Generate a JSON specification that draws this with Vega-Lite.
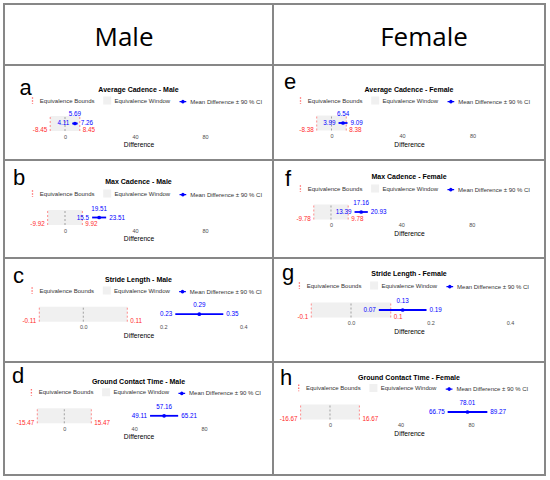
{
"$schema": "https://vega.github.io/schema/vega-lite/v6.json",
"padding": {"left": 3, "top": 3, "right": 0, "bottom": 0},
"background": "white",
"datasets": {
"equiv": [
{"panel":"a","sex":"Male","metric":"Average Cadence","lower":-8.45,"upper":8.45,"mean":5.69,"lo":4.11,"hi":7.26},
{"panel":"b","sex":"Male","metric":"Max Cadence","lower":-9.92,"upper":9.92,"mean":19.51,"lo":15.5,"hi":23.51},
{"panel":"c","sex":"Male","metric":"Stride Length","lower":-0.11,"upper":0.11,"mean":0.29,"lo":0.23,"hi":0.35},
{"panel":"d","sex":"Male","metric":"Ground Contact Time","lower":-15.47,"upper":15.47,"mean":57.16,"lo":49.11,"hi":65.21},
{"panel":"e","sex":"Female","metric":"Average Cadence","lower":-8.38,"upper":8.38,"mean":6.54,"lo":3.99,"hi":9.09},
{"panel":"f","sex":"Female","metric":"Max Cadence","lower":-9.78,"upper":9.78,"mean":17.16,"lo":13.39,"hi":20.93},
{"panel":"g","sex":"Female","metric":"Stride Length","lower":-0.1,"upper":0.1,"mean":0.13,"lo":0.07,"hi":0.19},
{"panel":"h","sex":"Female","metric":"Ground Contact Time","lower":-16.67,"upper":16.67,"mean":78.01,"lo":66.75,"hi":89.27}
],
"heads": [{"sex":"Male"},{"sex":"Female"}]
},
"config": {
"font": "Liberation Sans",
"view": {"stroke": "#878787", "strokeWidth": 2},
"title": {"fontSize": 7, "fontWeight": "bold", "color": "#000000", "anchor": "middle", "frame": "group", "font": "Liberation Sans"},
"axisX": {"domain": false, "ticks": false, "tickSize": 0, "grid": false, "labelFontSize": 5.5, "labelColor": "#4d4d4d", "labelPadding": 3, "labelFlush": false, "titleFontSize": 6.7, "titleFontWeight": "normal", "titleColor": "#000000", "titlePadding": 2},
"legend": {"labelFontSize": 6, "labelColor": "#333333", "symbolSize": 45, "labelOffset": 2.8, "columnPadding": 5.7, "padding": 0, "direction": "horizontal", "orient": "none"},
"text": {"font": "Liberation Sans"}
},
"columns": 2,
"spacing": 0,
"bounds": "flush",
"align": "each",
"resolve": {"scale": {"color": "independent"}},
"concat": [
 {"width": 269, "height": 61, "data": {"name": "heads"}, "transform": [{"filter": "datum.sex === 'Male'"}],
  "view": {"stroke": "#878787", "strokeWidth": 2},
  "mark": {"type": "text", "font": "Open Sans", "fontSize": 26, "align": "center", "baseline": "alphabetic", "dx": -14.5, "dy": 11.5, "color": "#000000"},
  "encoding": {"x": {"datum": 0, "type": "quantitative", "scale": {"domain": [-1, 1]}, "axis": null}, "y": {"datum": 0, "type": "quantitative", "scale": {"domain": [-1, 1]}, "axis": null}, "text": {"field": "sex", "type": "nominal"}}},
 {"width": 272, "height": 61, "data": {"name": "heads"}, "transform": [{"filter": "datum.sex === 'Female'"}],
  "view": {"stroke": "#878787", "strokeWidth": 2},
  "mark": {"type": "text", "font": "Open Sans", "fontSize": 26, "align": "center", "baseline": "alphabetic", "dx": 15, "dy": 11.5, "color": "#000000"},
  "encoding": {"x": {"datum": 0, "type": "quantitative", "scale": {"domain": [-1, 1]}, "axis": null}, "y": {"datum": 0, "type": "quantitative", "scale": {"domain": [-1, 1]}, "axis": null}, "text": {"field": "sex", "type": "nominal"}}},
 {"width": 269, "height": 95, "data": {"name": "equiv"}, "transform": [{"filter": "datum.panel === 'a'"}],
  "title": {"text": "Average Cadence - Male", "offset": -27.5},
  "layer": [
   {"mark": {"type": "rect"}, "encoding": {
     "x": {"field": "lower", "type": "quantitative", "title": "Difference", "scale": {"domain": [-34.86, 118.86], "nice": false, "zero": false}, "axis": {"values": [0, 40, 80], "format": "d", "offset": -29}},
     "x2": {"field": "upper"},
     "y": {"datum": -1, "type": "quantitative", "scale": {"domain": [-4.867, 7.8], "nice": false, "zero": false}, "axis": null},
     "y2": {"datum": 1},
     "color": {"datum": "Equivalence Window", "type": "nominal", "scale": {"domain": ["Equivalence Bounds", "Equivalence Window", "Mean Difference ± 90 % CI"], "range": ["#ff7070", "#f0f0f0", "#0000ff"]},
       "legend": {"title": null, "orient": "none", "legendX": 24, "legendY": 30.8, "direction": "horizontal", "encode": {"symbols": {"update": {"shape": {"signal": "datum.value === 'Equivalence Bounds' ? 'M0,-1L0,1' : datum.value === 'Equivalence Window' ? 'square' : 'M-1,0L1,0M-0.35,0A0.35,0.35,0,1,1,0.35,0A0.35,0.35,0,1,1,-0.35,0'"}, "fill": {"signal": "datum.value === 'Equivalence Bounds' ? 'transparent' : datum.value === 'Equivalence Window' ? '#ebebeb' : '#0000ff'"}, "stroke": {"signal": "datum.value === 'Equivalence Bounds' ? '#ff7070' : datum.value === 'Equivalence Window' ? 'transparent' : '#0000ff'"}, "strokeDash": {"signal": "datum.value === 'Equivalence Bounds' ? [1.5, 1.5] : [1, 0]"}, "strokeWidth": {"value": 1.3}, "size": {"value": 45}, "opacity": {"value": 1}}}}}}}},
   {"mark": {"type": "rule", "color": "#808080", "strokeDash": [2, 2], "strokeWidth": 0.7}, "encoding": {"x": {"datum": 0, "type": "quantitative"}, "y": {"datum": -1, "type": "quantitative"}, "y2": {"datum": 1}}},
   {"mark": {"type": "rule", "strokeDash": [2, 2], "strokeWidth": 0.8}, "encoding": {"x": {"field": "lower", "type": "quantitative", "title": "Difference"}, "y": {"datum": -1, "type": "quantitative"}, "y2": {"datum": 1}, "color": {"datum": "Equivalence Bounds", "type": "nominal"}}},
   {"mark": {"type": "rule", "strokeDash": [2, 2], "strokeWidth": 0.8}, "encoding": {"x": {"field": "upper", "type": "quantitative", "title": "Difference"}, "y": {"datum": -1, "type": "quantitative"}, "y2": {"datum": 1}, "color": {"datum": "Equivalence Bounds", "type": "nominal"}}},
   {"mark": {"type": "rule", "strokeWidth": 1.8}, "encoding": {"x": {"field": "lo", "type": "quantitative", "title": "Difference"}, "x2": {"field": "hi"}, "y": {"datum": 0, "type": "quantitative"}, "color": {"datum": "Mean Difference ± 90 % CI", "type": "nominal"}}},
   {"mark": {"type": "point", "filled": true, "size": 14, "opacity": 1}, "encoding": {"x": {"field": "mean", "type": "quantitative", "title": "Difference"}, "y": {"datum": 0, "type": "quantitative"}, "color": {"datum": "Mean Difference ± 90 % CI", "type": "nominal"}}},
   {"mark": {"type": "text", "align": "right", "baseline": "middle", "dx": -3, "dy": 6.8, "fontSize": 6.3, "color": "#ff2b2b"}, "encoding": {"x": {"field": "lower", "type": "quantitative", "title": "Difference"}, "y": {"datum": 0, "type": "quantitative"}, "text": {"field": "lower", "type": "nominal"}}},
   {"mark": {"type": "text", "align": "left", "baseline": "middle", "dx": 3, "dy": 6.8, "fontSize": 6.3, "color": "#ff2b2b"}, "encoding": {"x": {"field": "upper", "type": "quantitative", "title": "Difference"}, "y": {"datum": 0, "type": "quantitative"}, "text": {"field": "upper", "type": "nominal"}}},
   {"mark": {"type": "text", "align": "right", "baseline": "middle", "dx": -3, "fontSize": 6.3, "color": "#0000ff"}, "encoding": {"x": {"field": "lo", "type": "quantitative", "title": "Difference"}, "y": {"datum": 0, "type": "quantitative"}, "text": {"field": "lo", "type": "nominal"}}},
   {"mark": {"type": "text", "align": "left", "baseline": "middle", "dx": 3, "fontSize": 6.3, "color": "#0000ff"}, "encoding": {"x": {"field": "hi", "type": "quantitative", "title": "Difference"}, "y": {"datum": 0, "type": "quantitative"}, "text": {"field": "hi", "type": "nominal"}}},
   {"mark": {"type": "text", "align": "center", "baseline": "middle", "dy": -9, "fontSize": 6.3, "color": "#0000ff"}, "encoding": {"x": {"field": "mean", "type": "quantitative", "title": "Difference"}, "y": {"datum": 0, "type": "quantitative"}, "text": {"field": "mean", "type": "nominal"}}},
   {"mark": {"type": "text", "align": "left", "baseline": "alphabetic", "dx": -119, "dy": -17.5, "fontSize": 22, "color": "#000000"}, "encoding": {"text": {"field": "panel", "type": "nominal"}}}
  ]},
 {"width": 272, "height": 95, "data": {"name": "equiv"}, "transform": [{"filter": "datum.panel === 'e'"}],
  "title": {"text": "Average Cadence - Female", "offset": -27.5},
  "layer": [
   {"mark": {"type": "rect"}, "encoding": {
     "x": {"field": "lower", "type": "quantitative", "title": "Difference", "scale": {"domain": [-33.19, 121.13], "nice": false, "zero": false}, "axis": {"values": [0, 40, 80], "format": "d", "offset": -29.5}},
     "x2": {"field": "upper"},
     "y": {"datum": -1, "type": "quantitative", "scale": {"domain": [-4.933, 7.733], "nice": false, "zero": false}, "axis": null},
     "y2": {"datum": 1},
     "color": {"datum": "Equivalence Window", "type": "nominal", "scale": {"domain": ["Equivalence Bounds", "Equivalence Window", "Mean Difference ± 90 % CI"], "range": ["#ff7070", "#f0f0f0", "#0000ff"]},
       "legend": {"title": null, "orient": "none", "legendX": 23, "legendY": 30.8, "direction": "horizontal", "encode": {"symbols": {"update": {"shape": {"signal": "datum.value === 'Equivalence Bounds' ? 'M0,-1L0,1' : datum.value === 'Equivalence Window' ? 'square' : 'M-1,0L1,0M-0.35,0A0.35,0.35,0,1,1,0.35,0A0.35,0.35,0,1,1,-0.35,0'"}, "fill": {"signal": "datum.value === 'Equivalence Bounds' ? 'transparent' : datum.value === 'Equivalence Window' ? '#ebebeb' : '#0000ff'"}, "stroke": {"signal": "datum.value === 'Equivalence Bounds' ? '#ff7070' : datum.value === 'Equivalence Window' ? 'transparent' : '#0000ff'"}, "strokeDash": {"signal": "datum.value === 'Equivalence Bounds' ? [1.5, 1.5] : [1, 0]"}, "strokeWidth": {"value": 1.3}, "size": {"value": 45}, "opacity": {"value": 1}}}}}}}},
   {"mark": {"type": "rule", "color": "#808080", "strokeDash": [2, 2], "strokeWidth": 0.7}, "encoding": {"x": {"datum": 0, "type": "quantitative"}, "y": {"datum": -1, "type": "quantitative"}, "y2": {"datum": 1}}},
   {"mark": {"type": "rule", "strokeDash": [2, 2], "strokeWidth": 0.8}, "encoding": {"x": {"field": "lower", "type": "quantitative", "title": "Difference"}, "y": {"datum": -1, "type": "quantitative"}, "y2": {"datum": 1}, "color": {"datum": "Equivalence Bounds", "type": "nominal"}}},
   {"mark": {"type": "rule", "strokeDash": [2, 2], "strokeWidth": 0.8}, "encoding": {"x": {"field": "upper", "type": "quantitative", "title": "Difference"}, "y": {"datum": -1, "type": "quantitative"}, "y2": {"datum": 1}, "color": {"datum": "Equivalence Bounds", "type": "nominal"}}},
   {"mark": {"type": "rule", "strokeWidth": 1.8}, "encoding": {"x": {"field": "lo", "type": "quantitative", "title": "Difference"}, "x2": {"field": "hi"}, "y": {"datum": 0, "type": "quantitative"}, "color": {"datum": "Mean Difference ± 90 % CI", "type": "nominal"}}},
   {"mark": {"type": "point", "filled": true, "size": 14, "opacity": 1}, "encoding": {"x": {"field": "mean", "type": "quantitative", "title": "Difference"}, "y": {"datum": 0, "type": "quantitative"}, "color": {"datum": "Mean Difference ± 90 % CI", "type": "nominal"}}},
   {"mark": {"type": "text", "align": "right", "baseline": "middle", "dx": -3, "dy": 6.8, "fontSize": 6.3, "color": "#ff2b2b"}, "encoding": {"x": {"field": "lower", "type": "quantitative", "title": "Difference"}, "y": {"datum": 0, "type": "quantitative"}, "text": {"field": "lower", "type": "nominal"}}},
   {"mark": {"type": "text", "align": "left", "baseline": "middle", "dx": 3, "dy": 6.8, "fontSize": 6.3, "color": "#ff2b2b"}, "encoding": {"x": {"field": "upper", "type": "quantitative", "title": "Difference"}, "y": {"datum": 0, "type": "quantitative"}, "text": {"field": "upper", "type": "nominal"}}},
   {"mark": {"type": "text", "align": "right", "baseline": "middle", "dx": -3, "fontSize": 6.3, "color": "#0000ff"}, "encoding": {"x": {"field": "lo", "type": "quantitative", "title": "Difference"}, "y": {"datum": 0, "type": "quantitative"}, "text": {"field": "lo", "type": "nominal"}}},
   {"mark": {"type": "text", "align": "left", "baseline": "middle", "dx": 3, "fontSize": 6.3, "color": "#0000ff"}, "encoding": {"x": {"field": "hi", "type": "quantitative", "title": "Difference"}, "y": {"datum": 0, "type": "quantitative"}, "text": {"field": "hi", "type": "nominal"}}},
   {"mark": {"type": "text", "align": "center", "baseline": "middle", "dy": -9, "fontSize": 6.3, "color": "#0000ff"}, "encoding": {"x": {"field": "mean", "type": "quantitative", "title": "Difference"}, "y": {"datum": 0, "type": "quantitative"}, "text": {"field": "mean", "type": "nominal"}}},
   {"mark": {"type": "text", "align": "left", "baseline": "alphabetic", "dx": -125, "dy": -23.5, "fontSize": 22, "color": "#000000"}, "encoding": {"text": {"field": "panel", "type": "nominal"}}}
  ]},
 {"width": 269, "height": 98, "data": {"name": "equiv"}, "transform": [{"filter": "datum.panel === 'b'"}],
  "title": {"text": "Max Cadence - Male", "offset": -25.2},
  "layer": [
   {"mark": {"type": "rect"}, "encoding": {
     "x": {"field": "lower", "type": "quantitative", "title": "Difference", "scale": {"domain": [-34.86, 118.86], "nice": false, "zero": false}, "axis": {"values": [0, 40, 80], "format": "d", "offset": -33}},
     "x2": {"field": "upper"},
     "y": {"datum": -1, "type": "quantitative", "scale": {"domain": [-5.4, 7.667], "nice": false, "zero": false}, "axis": null},
     "y2": {"datum": 1},
     "color": {"datum": "Equivalence Window", "type": "nominal", "scale": {"domain": ["Equivalence Bounds", "Equivalence Window", "Mean Difference ± 90 % CI"], "range": ["#ff7070", "#f0f0f0", "#0000ff"]},
       "legend": {"title": null, "orient": "none", "legendX": 24, "legendY": 28.8, "direction": "horizontal", "encode": {"symbols": {"update": {"shape": {"signal": "datum.value === 'Equivalence Bounds' ? 'M0,-1L0,1' : datum.value === 'Equivalence Window' ? 'square' : 'M-1,0L1,0M-0.35,0A0.35,0.35,0,1,1,0.35,0A0.35,0.35,0,1,1,-0.35,0'"}, "fill": {"signal": "datum.value === 'Equivalence Bounds' ? 'transparent' : datum.value === 'Equivalence Window' ? '#ebebeb' : '#0000ff'"}, "stroke": {"signal": "datum.value === 'Equivalence Bounds' ? '#ff7070' : datum.value === 'Equivalence Window' ? 'transparent' : '#0000ff'"}, "strokeDash": {"signal": "datum.value === 'Equivalence Bounds' ? [1.5, 1.5] : [1, 0]"}, "strokeWidth": {"value": 1.3}, "size": {"value": 45}, "opacity": {"value": 1}}}}}}}},
   {"mark": {"type": "rule", "color": "#808080", "strokeDash": [2, 2], "strokeWidth": 0.7}, "encoding": {"x": {"datum": 0, "type": "quantitative"}, "y": {"datum": -1, "type": "quantitative"}, "y2": {"datum": 1}}},
   {"mark": {"type": "rule", "strokeDash": [2, 2], "strokeWidth": 0.8}, "encoding": {"x": {"field": "lower", "type": "quantitative", "title": "Difference"}, "y": {"datum": -1, "type": "quantitative"}, "y2": {"datum": 1}, "color": {"datum": "Equivalence Bounds", "type": "nominal"}}},
   {"mark": {"type": "rule", "strokeDash": [2, 2], "strokeWidth": 0.8}, "encoding": {"x": {"field": "upper", "type": "quantitative", "title": "Difference"}, "y": {"datum": -1, "type": "quantitative"}, "y2": {"datum": 1}, "color": {"datum": "Equivalence Bounds", "type": "nominal"}}},
   {"mark": {"type": "rule", "strokeWidth": 1.8}, "encoding": {"x": {"field": "lo", "type": "quantitative", "title": "Difference"}, "x2": {"field": "hi"}, "y": {"datum": 0, "type": "quantitative"}, "color": {"datum": "Mean Difference ± 90 % CI", "type": "nominal"}}},
   {"mark": {"type": "point", "filled": true, "size": 14, "opacity": 1}, "encoding": {"x": {"field": "mean", "type": "quantitative", "title": "Difference"}, "y": {"datum": 0, "type": "quantitative"}, "color": {"datum": "Mean Difference ± 90 % CI", "type": "nominal"}}},
   {"mark": {"type": "text", "align": "right", "baseline": "middle", "dx": -3, "dy": 6.8, "fontSize": 6.3, "color": "#ff2b2b"}, "encoding": {"x": {"field": "lower", "type": "quantitative", "title": "Difference"}, "y": {"datum": 0, "type": "quantitative"}, "text": {"field": "lower", "type": "nominal"}}},
   {"mark": {"type": "text", "align": "left", "baseline": "middle", "dx": 3, "dy": 6.8, "fontSize": 6.3, "color": "#ff2b2b"}, "encoding": {"x": {"field": "upper", "type": "quantitative", "title": "Difference"}, "y": {"datum": 0, "type": "quantitative"}, "text": {"field": "upper", "type": "nominal"}}},
   {"mark": {"type": "text", "align": "right", "baseline": "middle", "dx": -3, "fontSize": 6.3, "color": "#0000ff"}, "encoding": {"x": {"field": "lo", "type": "quantitative", "title": "Difference"}, "y": {"datum": 0, "type": "quantitative"}, "text": {"field": "lo", "type": "nominal"}}},
   {"mark": {"type": "text", "align": "left", "baseline": "middle", "dx": 3, "fontSize": 6.3, "color": "#0000ff"}, "encoding": {"x": {"field": "hi", "type": "quantitative", "title": "Difference"}, "y": {"datum": 0, "type": "quantitative"}, "text": {"field": "hi", "type": "nominal"}}},
   {"mark": {"type": "text", "align": "center", "baseline": "middle", "dy": -9, "fontSize": 6.3, "color": "#0000ff"}, "encoding": {"x": {"field": "mean", "type": "quantitative", "title": "Difference"}, "y": {"datum": 0, "type": "quantitative"}, "text": {"field": "mean", "type": "nominal"}}},
   {"mark": {"type": "text", "align": "left", "baseline": "alphabetic", "dx": -125.5, "dy": -24, "fontSize": 22, "color": "#000000"}, "encoding": {"text": {"field": "panel", "type": "nominal"}}}
  ]},
 {"width": 272, "height": 98, "data": {"name": "equiv"}, "transform": [{"filter": "datum.panel === 'f'"}],
  "title": {"text": "Max Cadence - Female", "offset": -20.2},
  "layer": [
   {"mark": {"type": "rect"}, "encoding": {
     "x": {"field": "lower", "type": "quantitative", "title": "Difference", "scale": {"domain": [-32.97, 121.66], "nice": false, "zero": false}, "axis": {"values": [0, 40, 80], "format": "d", "offset": -38.5}},
     "x2": {"field": "upper"},
     "y": {"datum": -1, "type": "quantitative", "scale": {"domain": [-6.133, 6.933], "nice": false, "zero": false}, "axis": null},
     "y2": {"datum": 1},
     "color": {"datum": "Equivalence Window", "type": "nominal", "scale": {"domain": ["Equivalence Bounds", "Equivalence Window", "Mean Difference ± 90 % CI"], "range": ["#ff7070", "#f0f0f0", "#0000ff"]},
       "legend": {"title": null, "orient": "none", "legendX": 22.9, "legendY": 23.8, "direction": "horizontal", "encode": {"symbols": {"update": {"shape": {"signal": "datum.value === 'Equivalence Bounds' ? 'M0,-1L0,1' : datum.value === 'Equivalence Window' ? 'square' : 'M-1,0L1,0M-0.35,0A0.35,0.35,0,1,1,0.35,0A0.35,0.35,0,1,1,-0.35,0'"}, "fill": {"signal": "datum.value === 'Equivalence Bounds' ? 'transparent' : datum.value === 'Equivalence Window' ? '#ebebeb' : '#0000ff'"}, "stroke": {"signal": "datum.value === 'Equivalence Bounds' ? '#ff7070' : datum.value === 'Equivalence Window' ? 'transparent' : '#0000ff'"}, "strokeDash": {"signal": "datum.value === 'Equivalence Bounds' ? [1.5, 1.5] : [1, 0]"}, "strokeWidth": {"value": 1.3}, "size": {"value": 45}, "opacity": {"value": 1}}}}}}}},
   {"mark": {"type": "rule", "color": "#808080", "strokeDash": [2, 2], "strokeWidth": 0.7}, "encoding": {"x": {"datum": 0, "type": "quantitative"}, "y": {"datum": -1, "type": "quantitative"}, "y2": {"datum": 1}}},
   {"mark": {"type": "rule", "strokeDash": [2, 2], "strokeWidth": 0.8}, "encoding": {"x": {"field": "lower", "type": "quantitative", "title": "Difference"}, "y": {"datum": -1, "type": "quantitative"}, "y2": {"datum": 1}, "color": {"datum": "Equivalence Bounds", "type": "nominal"}}},
   {"mark": {"type": "rule", "strokeDash": [2, 2], "strokeWidth": 0.8}, "encoding": {"x": {"field": "upper", "type": "quantitative", "title": "Difference"}, "y": {"datum": -1, "type": "quantitative"}, "y2": {"datum": 1}, "color": {"datum": "Equivalence Bounds", "type": "nominal"}}},
   {"mark": {"type": "rule", "strokeWidth": 1.8}, "encoding": {"x": {"field": "lo", "type": "quantitative", "title": "Difference"}, "x2": {"field": "hi"}, "y": {"datum": 0, "type": "quantitative"}, "color": {"datum": "Mean Difference ± 90 % CI", "type": "nominal"}}},
   {"mark": {"type": "point", "filled": true, "size": 14, "opacity": 1}, "encoding": {"x": {"field": "mean", "type": "quantitative", "title": "Difference"}, "y": {"datum": 0, "type": "quantitative"}, "color": {"datum": "Mean Difference ± 90 % CI", "type": "nominal"}}},
   {"mark": {"type": "text", "align": "right", "baseline": "middle", "dx": -3, "dy": 6.8, "fontSize": 6.3, "color": "#ff2b2b"}, "encoding": {"x": {"field": "lower", "type": "quantitative", "title": "Difference"}, "y": {"datum": 0, "type": "quantitative"}, "text": {"field": "lower", "type": "nominal"}}},
   {"mark": {"type": "text", "align": "left", "baseline": "middle", "dx": 3, "dy": 6.8, "fontSize": 6.3, "color": "#ff2b2b"}, "encoding": {"x": {"field": "upper", "type": "quantitative", "title": "Difference"}, "y": {"datum": 0, "type": "quantitative"}, "text": {"field": "upper", "type": "nominal"}}},
   {"mark": {"type": "text", "align": "right", "baseline": "middle", "dx": -3, "fontSize": 6.3, "color": "#0000ff"}, "encoding": {"x": {"field": "lo", "type": "quantitative", "title": "Difference"}, "y": {"datum": 0, "type": "quantitative"}, "text": {"field": "lo", "type": "nominal"}}},
   {"mark": {"type": "text", "align": "left", "baseline": "middle", "dx": 3, "fontSize": 6.3, "color": "#0000ff"}, "encoding": {"x": {"field": "hi", "type": "quantitative", "title": "Difference"}, "y": {"datum": 0, "type": "quantitative"}, "text": {"field": "hi", "type": "nominal"}}},
   {"mark": {"type": "text", "align": "center", "baseline": "middle", "dy": -9, "fontSize": 6.3, "color": "#0000ff"}, "encoding": {"x": {"field": "mean", "type": "quantitative", "title": "Difference"}, "y": {"datum": 0, "type": "quantitative"}, "text": {"field": "mean", "type": "nominal"}}},
   {"mark": {"type": "text", "align": "left", "baseline": "alphabetic", "dx": -124, "dy": -23, "fontSize": 22, "color": "#000000"}, "encoding": {"text": {"field": "panel", "type": "nominal"}}}
  ]},
 {"width": 269, "height": 104, "data": {"name": "equiv"}, "transform": [{"filter": "datum.panel === 'c'"}],
  "title": {"text": "Stride Length - Male", "offset": -24.5},
  "layer": [
   {"mark": {"type": "rect"}, "encoding": {
     "x": {"field": "lower", "type": "quantitative", "title": "Difference", "scale": {"domain": [-0.19825, 0.47425], "nice": false, "zero": false}, "axis": {"values": [0, 0.2, 0.4], "format": ".1f", "offset": -40.3}},
     "x2": {"field": "upper"},
     "y": {"datum": -1, "type": "quantitative", "scale": {"domain": [-6.373, 7.493], "nice": false, "zero": false}, "axis": null},
     "y2": {"datum": 1},
     "color": {"datum": "Equivalence Window", "type": "nominal", "scale": {"domain": ["Equivalence Bounds", "Equivalence Window", "Mean Difference ± 90 % CI"], "range": ["#ff7070", "#f0f0f0", "#0000ff"]},
       "legend": {"title": null, "orient": "none", "legendX": 23.6, "legendY": 27.8, "direction": "horizontal", "encode": {"symbols": {"update": {"shape": {"signal": "datum.value === 'Equivalence Bounds' ? 'M0,-1L0,1' : datum.value === 'Equivalence Window' ? 'square' : 'M-1,0L1,0M-0.35,0A0.35,0.35,0,1,1,0.35,0A0.35,0.35,0,1,1,-0.35,0'"}, "fill": {"signal": "datum.value === 'Equivalence Bounds' ? 'transparent' : datum.value === 'Equivalence Window' ? '#ebebeb' : '#0000ff'"}, "stroke": {"signal": "datum.value === 'Equivalence Bounds' ? '#ff7070' : datum.value === 'Equivalence Window' ? 'transparent' : '#0000ff'"}, "strokeDash": {"signal": "datum.value === 'Equivalence Bounds' ? [1.5, 1.5] : [1, 0]"}, "strokeWidth": {"value": 1.3}, "size": {"value": 45}, "opacity": {"value": 1}}}}}}}},
   {"mark": {"type": "rule", "color": "#808080", "strokeDash": [2, 2], "strokeWidth": 0.7}, "encoding": {"x": {"datum": 0, "type": "quantitative"}, "y": {"datum": -1, "type": "quantitative"}, "y2": {"datum": 1}}},
   {"mark": {"type": "rule", "strokeDash": [2, 2], "strokeWidth": 0.8}, "encoding": {"x": {"field": "lower", "type": "quantitative", "title": "Difference"}, "y": {"datum": -1, "type": "quantitative"}, "y2": {"datum": 1}, "color": {"datum": "Equivalence Bounds", "type": "nominal"}}},
   {"mark": {"type": "rule", "strokeDash": [2, 2], "strokeWidth": 0.8}, "encoding": {"x": {"field": "upper", "type": "quantitative", "title": "Difference"}, "y": {"datum": -1, "type": "quantitative"}, "y2": {"datum": 1}, "color": {"datum": "Equivalence Bounds", "type": "nominal"}}},
   {"mark": {"type": "rule", "strokeWidth": 1.8}, "encoding": {"x": {"field": "lo", "type": "quantitative", "title": "Difference"}, "x2": {"field": "hi"}, "y": {"datum": 0, "type": "quantitative"}, "color": {"datum": "Mean Difference ± 90 % CI", "type": "nominal"}}},
   {"mark": {"type": "point", "filled": true, "size": 14, "opacity": 1}, "encoding": {"x": {"field": "mean", "type": "quantitative", "title": "Difference"}, "y": {"datum": 0, "type": "quantitative"}, "color": {"datum": "Mean Difference ± 90 % CI", "type": "nominal"}}},
   {"mark": {"type": "text", "align": "right", "baseline": "middle", "dx": -3, "dy": 6.8, "fontSize": 6.3, "color": "#ff2b2b"}, "encoding": {"x": {"field": "lower", "type": "quantitative", "title": "Difference"}, "y": {"datum": 0, "type": "quantitative"}, "text": {"field": "lower", "type": "nominal"}}},
   {"mark": {"type": "text", "align": "left", "baseline": "middle", "dx": 3, "dy": 6.8, "fontSize": 6.3, "color": "#ff2b2b"}, "encoding": {"x": {"field": "upper", "type": "quantitative", "title": "Difference"}, "y": {"datum": 0, "type": "quantitative"}, "text": {"field": "upper", "type": "nominal"}}},
   {"mark": {"type": "text", "align": "right", "baseline": "middle", "dx": -3, "fontSize": 6.3, "color": "#0000ff"}, "encoding": {"x": {"field": "lo", "type": "quantitative", "title": "Difference"}, "y": {"datum": 0, "type": "quantitative"}, "text": {"field": "lo", "type": "nominal"}}},
   {"mark": {"type": "text", "align": "left", "baseline": "middle", "dx": 3, "fontSize": 6.3, "color": "#0000ff"}, "encoding": {"x": {"field": "hi", "type": "quantitative", "title": "Difference"}, "y": {"datum": 0, "type": "quantitative"}, "text": {"field": "hi", "type": "nominal"}}},
   {"mark": {"type": "text", "align": "center", "baseline": "middle", "dy": -9, "fontSize": 6.3, "color": "#0000ff"}, "encoding": {"x": {"field": "mean", "type": "quantitative", "title": "Difference"}, "y": {"datum": 0, "type": "quantitative"}, "text": {"field": "mean", "type": "nominal"}}},
   {"mark": {"type": "text", "align": "left", "baseline": "alphabetic", "dx": -125.5, "dy": -27, "fontSize": 22, "color": "#000000"}, "encoding": {"text": {"field": "panel", "type": "nominal"}}}
  ]},
 {"width": 272, "height": 104, "data": {"name": "equiv"}, "transform": [{"filter": "datum.panel === 'g'"}],
  "title": {"text": "Stride Length - Female", "offset": -19},
  "layer": [
   {"mark": {"type": "rect"}, "encoding": {
     "x": {"field": "lower", "type": "quantitative", "title": "Difference", "scale": {"domain": [-0.19623, 0.48805], "nice": false, "zero": false}, "axis": {"values": [0, 0.2, 0.4], "format": ".1f", "offset": -44.5}},
     "x2": {"field": "upper"},
     "y": {"datum": -1, "type": "quantitative", "scale": {"domain": [-6.933, 6.933], "nice": false, "zero": false}, "axis": null},
     "y2": {"datum": 1},
     "color": {"datum": "Equivalence Window", "type": "nominal", "scale": {"domain": ["Equivalence Bounds", "Equivalence Window", "Mean Difference ± 90 % CI"], "range": ["#ff7070", "#f0f0f0", "#0000ff"]},
       "legend": {"title": null, "orient": "none", "legendX": 21.9, "legendY": 22.8, "direction": "horizontal", "encode": {"symbols": {"update": {"shape": {"signal": "datum.value === 'Equivalence Bounds' ? 'M0,-1L0,1' : datum.value === 'Equivalence Window' ? 'square' : 'M-1,0L1,0M-0.35,0A0.35,0.35,0,1,1,0.35,0A0.35,0.35,0,1,1,-0.35,0'"}, "fill": {"signal": "datum.value === 'Equivalence Bounds' ? 'transparent' : datum.value === 'Equivalence Window' ? '#ebebeb' : '#0000ff'"}, "stroke": {"signal": "datum.value === 'Equivalence Bounds' ? '#ff7070' : datum.value === 'Equivalence Window' ? 'transparent' : '#0000ff'"}, "strokeDash": {"signal": "datum.value === 'Equivalence Bounds' ? [1.5, 1.5] : [1, 0]"}, "strokeWidth": {"value": 1.3}, "size": {"value": 45}, "opacity": {"value": 1}}}}}}}},
   {"mark": {"type": "rule", "color": "#808080", "strokeDash": [2, 2], "strokeWidth": 0.7}, "encoding": {"x": {"datum": 0, "type": "quantitative"}, "y": {"datum": -1, "type": "quantitative"}, "y2": {"datum": 1}}},
   {"mark": {"type": "rule", "strokeDash": [2, 2], "strokeWidth": 0.8}, "encoding": {"x": {"field": "lower", "type": "quantitative", "title": "Difference"}, "y": {"datum": -1, "type": "quantitative"}, "y2": {"datum": 1}, "color": {"datum": "Equivalence Bounds", "type": "nominal"}}},
   {"mark": {"type": "rule", "strokeDash": [2, 2], "strokeWidth": 0.8}, "encoding": {"x": {"field": "upper", "type": "quantitative", "title": "Difference"}, "y": {"datum": -1, "type": "quantitative"}, "y2": {"datum": 1}, "color": {"datum": "Equivalence Bounds", "type": "nominal"}}},
   {"mark": {"type": "rule", "strokeWidth": 1.8}, "encoding": {"x": {"field": "lo", "type": "quantitative", "title": "Difference"}, "x2": {"field": "hi"}, "y": {"datum": 0, "type": "quantitative"}, "color": {"datum": "Mean Difference ± 90 % CI", "type": "nominal"}}},
   {"mark": {"type": "point", "filled": true, "size": 14, "opacity": 1}, "encoding": {"x": {"field": "mean", "type": "quantitative", "title": "Difference"}, "y": {"datum": 0, "type": "quantitative"}, "color": {"datum": "Mean Difference ± 90 % CI", "type": "nominal"}}},
   {"mark": {"type": "text", "align": "right", "baseline": "middle", "dx": -3, "dy": 6.8, "fontSize": 6.3, "color": "#ff2b2b"}, "encoding": {"x": {"field": "lower", "type": "quantitative", "title": "Difference"}, "y": {"datum": 0, "type": "quantitative"}, "text": {"field": "lower", "type": "nominal"}}},
   {"mark": {"type": "text", "align": "left", "baseline": "middle", "dx": 3, "dy": 6.8, "fontSize": 6.3, "color": "#ff2b2b"}, "encoding": {"x": {"field": "upper", "type": "quantitative", "title": "Difference"}, "y": {"datum": 0, "type": "quantitative"}, "text": {"field": "upper", "type": "nominal"}}},
   {"mark": {"type": "text", "align": "right", "baseline": "middle", "dx": -3, "fontSize": 6.3, "color": "#0000ff"}, "encoding": {"x": {"field": "lo", "type": "quantitative", "title": "Difference"}, "y": {"datum": 0, "type": "quantitative"}, "text": {"field": "lo", "type": "nominal"}}},
   {"mark": {"type": "text", "align": "left", "baseline": "middle", "dx": 3, "fontSize": 6.3, "color": "#0000ff"}, "encoding": {"x": {"field": "hi", "type": "quantitative", "title": "Difference"}, "y": {"datum": 0, "type": "quantitative"}, "text": {"field": "hi", "type": "nominal"}}},
   {"mark": {"type": "text", "align": "center", "baseline": "middle", "dy": -9, "fontSize": 6.3, "color": "#0000ff"}, "encoding": {"x": {"field": "mean", "type": "quantitative", "title": "Difference"}, "y": {"datum": 0, "type": "quantitative"}, "text": {"field": "mean", "type": "nominal"}}},
   {"mark": {"type": "text", "align": "left", "baseline": "alphabetic", "dx": -127, "dy": -30, "fontSize": 22, "color": "#000000"}, "encoding": {"text": {"field": "panel", "type": "nominal"}}}
  ]},
 {"width": 269, "height": 113, "data": {"name": "equiv"}, "transform": [{"filter": "datum.panel === 'd'"}],
  "title": {"text": "Ground Contact Time - Male", "offset": -22.5},
  "layer": [
   {"mark": {"type": "rect"}, "encoding": {
     "x": {"field": "lower", "type": "quantitative", "title": "Difference", "scale": {"domain": [-34.54, 119.53], "nice": false, "zero": false}, "axis": {"values": [0, 40, 80], "format": "d", "offset": -51.7}},
     "x2": {"field": "upper"},
     "y": {"datum": -1, "type": "quantitative", "scale": {"domain": [-7.893, 7.173], "nice": false, "zero": false}, "axis": null},
     "y2": {"datum": 1},
     "color": {"datum": "Equivalence Window", "type": "nominal", "scale": {"domain": ["Equivalence Bounds", "Equivalence Window", "Mean Difference ± 90 % CI"], "range": ["#ff7070", "#f0f0f0", "#0000ff"]},
       "legend": {"title": null, "orient": "none", "legendX": 22.9, "legendY": 25.5, "direction": "horizontal", "encode": {"symbols": {"update": {"shape": {"signal": "datum.value === 'Equivalence Bounds' ? 'M0,-1L0,1' : datum.value === 'Equivalence Window' ? 'square' : 'M-1,0L1,0M-0.35,0A0.35,0.35,0,1,1,0.35,0A0.35,0.35,0,1,1,-0.35,0'"}, "fill": {"signal": "datum.value === 'Equivalence Bounds' ? 'transparent' : datum.value === 'Equivalence Window' ? '#ebebeb' : '#0000ff'"}, "stroke": {"signal": "datum.value === 'Equivalence Bounds' ? '#ff7070' : datum.value === 'Equivalence Window' ? 'transparent' : '#0000ff'"}, "strokeDash": {"signal": "datum.value === 'Equivalence Bounds' ? [1.5, 1.5] : [1, 0]"}, "strokeWidth": {"value": 1.3}, "size": {"value": 45}, "opacity": {"value": 1}}}}}}}},
   {"mark": {"type": "rule", "color": "#808080", "strokeDash": [2, 2], "strokeWidth": 0.7}, "encoding": {"x": {"datum": 0, "type": "quantitative"}, "y": {"datum": -1, "type": "quantitative"}, "y2": {"datum": 1}}},
   {"mark": {"type": "rule", "strokeDash": [2, 2], "strokeWidth": 0.8}, "encoding": {"x": {"field": "lower", "type": "quantitative", "title": "Difference"}, "y": {"datum": -1, "type": "quantitative"}, "y2": {"datum": 1}, "color": {"datum": "Equivalence Bounds", "type": "nominal"}}},
   {"mark": {"type": "rule", "strokeDash": [2, 2], "strokeWidth": 0.8}, "encoding": {"x": {"field": "upper", "type": "quantitative", "title": "Difference"}, "y": {"datum": -1, "type": "quantitative"}, "y2": {"datum": 1}, "color": {"datum": "Equivalence Bounds", "type": "nominal"}}},
   {"mark": {"type": "rule", "strokeWidth": 1.8}, "encoding": {"x": {"field": "lo", "type": "quantitative", "title": "Difference"}, "x2": {"field": "hi"}, "y": {"datum": 0, "type": "quantitative"}, "color": {"datum": "Mean Difference ± 90 % CI", "type": "nominal"}}},
   {"mark": {"type": "point", "filled": true, "size": 14, "opacity": 1}, "encoding": {"x": {"field": "mean", "type": "quantitative", "title": "Difference"}, "y": {"datum": 0, "type": "quantitative"}, "color": {"datum": "Mean Difference ± 90 % CI", "type": "nominal"}}},
   {"mark": {"type": "text", "align": "right", "baseline": "middle", "dx": -3, "dy": 6.8, "fontSize": 6.3, "color": "#ff2b2b"}, "encoding": {"x": {"field": "lower", "type": "quantitative", "title": "Difference"}, "y": {"datum": 0, "type": "quantitative"}, "text": {"field": "lower", "type": "nominal"}}},
   {"mark": {"type": "text", "align": "left", "baseline": "middle", "dx": 3, "dy": 6.8, "fontSize": 6.3, "color": "#ff2b2b"}, "encoding": {"x": {"field": "upper", "type": "quantitative", "title": "Difference"}, "y": {"datum": 0, "type": "quantitative"}, "text": {"field": "upper", "type": "nominal"}}},
   {"mark": {"type": "text", "align": "right", "baseline": "middle", "dx": -3, "fontSize": 6.3, "color": "#0000ff"}, "encoding": {"x": {"field": "lo", "type": "quantitative", "title": "Difference"}, "y": {"datum": 0, "type": "quantitative"}, "text": {"field": "lo", "type": "nominal"}}},
   {"mark": {"type": "text", "align": "left", "baseline": "middle", "dx": 3, "fontSize": 6.3, "color": "#0000ff"}, "encoding": {"x": {"field": "hi", "type": "quantitative", "title": "Difference"}, "y": {"datum": 0, "type": "quantitative"}, "text": {"field": "hi", "type": "nominal"}}},
   {"mark": {"type": "text", "align": "center", "baseline": "middle", "dy": -9, "fontSize": 6.3, "color": "#0000ff"}, "encoding": {"x": {"field": "mean", "type": "quantitative", "title": "Difference"}, "y": {"datum": 0, "type": "quantitative"}, "text": {"field": "mean", "type": "nominal"}}},
   {"mark": {"type": "text", "align": "left", "baseline": "alphabetic", "dx": -126.5, "dy": -35.5, "fontSize": 22, "color": "#000000"}, "encoding": {"text": {"field": "panel", "type": "nominal"}}}
  ]},
 {"width": 272, "height": 113, "data": {"name": "equiv"}, "transform": [{"filter": "datum.panel === 'h'"}],
  "title": {"text": "Ground Contact Time - Female", "offset": -18.5},
  "layer": [
   {"mark": {"type": "rect"}, "encoding": {
     "x": {"field": "lower", "type": "quantitative", "title": "Difference", "scale": {"domain": [-32.34, 121.99], "nice": false, "zero": false}, "axis": {"values": [0, 40, 80], "format": "d", "offset": -55.5}},
     "x2": {"field": "upper"},
     "y": {"datum": -1, "type": "quantitative", "scale": {"domain": [-8.4, 6.667], "nice": false, "zero": false}, "axis": null},
     "y2": {"datum": 1},
     "color": {"datum": "Equivalence Window", "type": "nominal", "scale": {"domain": ["Equivalence Bounds", "Equivalence Window", "Mean Difference ± 90 % CI"], "range": ["#ff7070", "#f0f0f0", "#0000ff"]},
       "legend": {"title": null, "orient": "none", "legendX": 21.2, "legendY": 21.2, "direction": "horizontal", "encode": {"symbols": {"update": {"shape": {"signal": "datum.value === 'Equivalence Bounds' ? 'M0,-1L0,1' : datum.value === 'Equivalence Window' ? 'square' : 'M-1,0L1,0M-0.35,0A0.35,0.35,0,1,1,0.35,0A0.35,0.35,0,1,1,-0.35,0'"}, "fill": {"signal": "datum.value === 'Equivalence Bounds' ? 'transparent' : datum.value === 'Equivalence Window' ? '#ebebeb' : '#0000ff'"}, "stroke": {"signal": "datum.value === 'Equivalence Bounds' ? '#ff7070' : datum.value === 'Equivalence Window' ? 'transparent' : '#0000ff'"}, "strokeDash": {"signal": "datum.value === 'Equivalence Bounds' ? [1.5, 1.5] : [1, 0]"}, "strokeWidth": {"value": 1.3}, "size": {"value": 45}, "opacity": {"value": 1}}}}}}}},
   {"mark": {"type": "rule", "color": "#808080", "strokeDash": [2, 2], "strokeWidth": 0.7}, "encoding": {"x": {"datum": 0, "type": "quantitative"}, "y": {"datum": -1, "type": "quantitative"}, "y2": {"datum": 1}}},
   {"mark": {"type": "rule", "strokeDash": [2, 2], "strokeWidth": 0.8}, "encoding": {"x": {"field": "lower", "type": "quantitative", "title": "Difference"}, "y": {"datum": -1, "type": "quantitative"}, "y2": {"datum": 1}, "color": {"datum": "Equivalence Bounds", "type": "nominal"}}},
   {"mark": {"type": "rule", "strokeDash": [2, 2], "strokeWidth": 0.8}, "encoding": {"x": {"field": "upper", "type": "quantitative", "title": "Difference"}, "y": {"datum": -1, "type": "quantitative"}, "y2": {"datum": 1}, "color": {"datum": "Equivalence Bounds", "type": "nominal"}}},
   {"mark": {"type": "rule", "strokeWidth": 1.8}, "encoding": {"x": {"field": "lo", "type": "quantitative", "title": "Difference"}, "x2": {"field": "hi"}, "y": {"datum": 0, "type": "quantitative"}, "color": {"datum": "Mean Difference ± 90 % CI", "type": "nominal"}}},
   {"mark": {"type": "point", "filled": true, "size": 14, "opacity": 1}, "encoding": {"x": {"field": "mean", "type": "quantitative", "title": "Difference"}, "y": {"datum": 0, "type": "quantitative"}, "color": {"datum": "Mean Difference ± 90 % CI", "type": "nominal"}}},
   {"mark": {"type": "text", "align": "right", "baseline": "middle", "dx": -3, "dy": 6.8, "fontSize": 6.3, "color": "#ff2b2b"}, "encoding": {"x": {"field": "lower", "type": "quantitative", "title": "Difference"}, "y": {"datum": 0, "type": "quantitative"}, "text": {"field": "lower", "type": "nominal"}}},
   {"mark": {"type": "text", "align": "left", "baseline": "middle", "dx": 3, "dy": 6.8, "fontSize": 6.3, "color": "#ff2b2b"}, "encoding": {"x": {"field": "upper", "type": "quantitative", "title": "Difference"}, "y": {"datum": 0, "type": "quantitative"}, "text": {"field": "upper", "type": "nominal"}}},
   {"mark": {"type": "text", "align": "right", "baseline": "middle", "dx": -3, "fontSize": 6.3, "color": "#0000ff"}, "encoding": {"x": {"field": "lo", "type": "quantitative", "title": "Difference"}, "y": {"datum": 0, "type": "quantitative"}, "text": {"field": "lo", "type": "nominal"}}},
   {"mark": {"type": "text", "align": "left", "baseline": "middle", "dx": 3, "fontSize": 6.3, "color": "#0000ff"}, "encoding": {"x": {"field": "hi", "type": "quantitative", "title": "Difference"}, "y": {"datum": 0, "type": "quantitative"}, "text": {"field": "hi", "type": "nominal"}}},
   {"mark": {"type": "text", "align": "center", "baseline": "middle", "dy": -9, "fontSize": 6.3, "color": "#0000ff"}, "encoding": {"x": {"field": "mean", "type": "quantitative", "title": "Difference"}, "y": {"datum": 0, "type": "quantitative"}, "text": {"field": "mean", "type": "nominal"}}},
   {"mark": {"type": "text", "align": "left", "baseline": "alphabetic", "dx": -129, "dy": -33.5, "fontSize": 22, "color": "#000000"}, "encoding": {"text": {"field": "panel", "type": "nominal"}}}
  ]}
]
}
